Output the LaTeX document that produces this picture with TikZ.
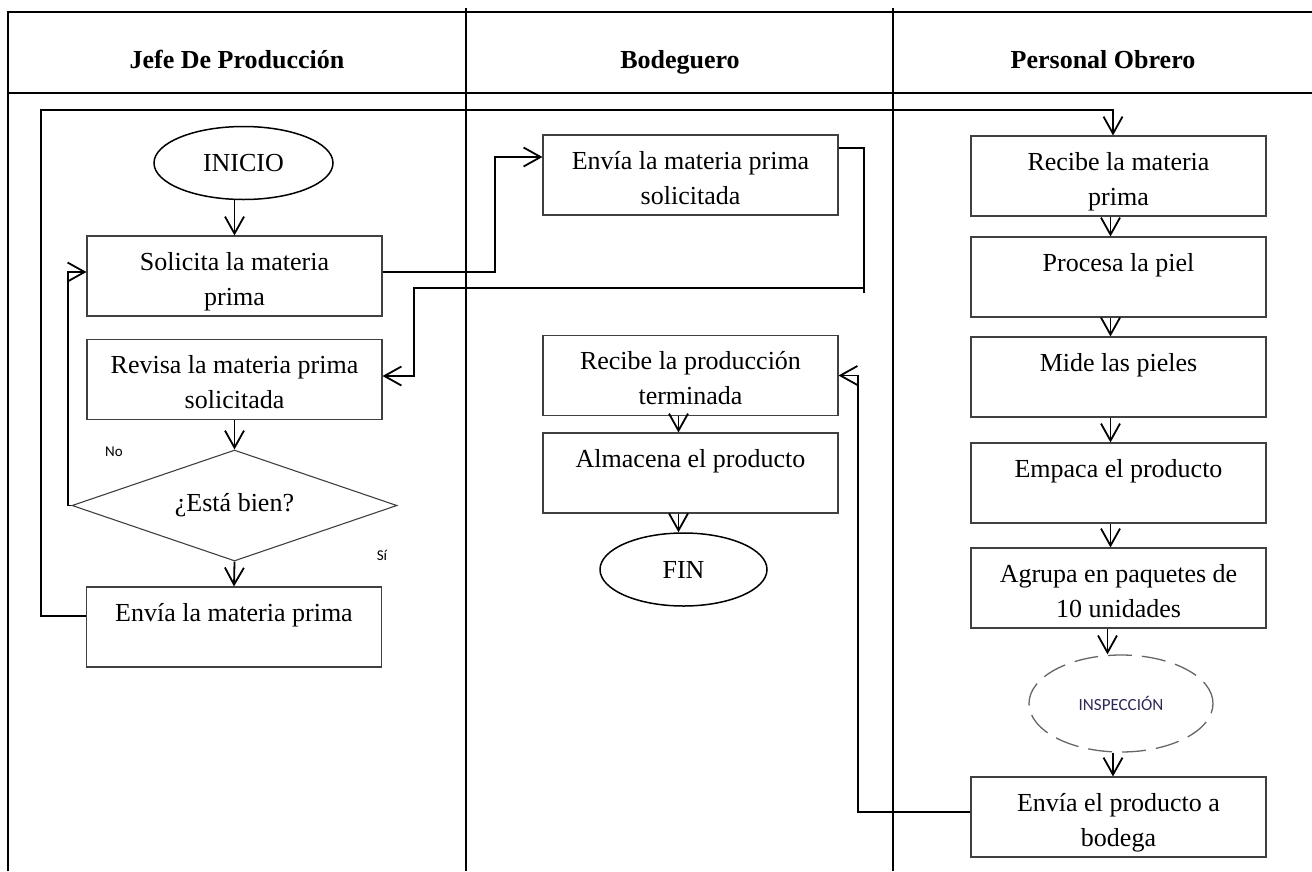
\documentclass[tikz,border=0pt]{standalone}
\usepackage{fontspec}
\setmainfont{Liberation Serif}
\newfontfamily\calib{Carlito}
\usetikzlibrary{shapes.geometric,arrows.meta}
\newcommand{\bxtxt}[1]{\parbox[c][80pt][t]{295pt}{\centering\rule{0pt}{34pt}#1}}
\tikzset{
  lane/.style={line width=2pt},
  conn/.style={line width=1.8pt},
  arr/.style={conn,-{Straight Barb[length=17pt,width=19pt]}},
  pbox/.style={draw=black!75,line width=1.1pt,inner sep=0pt,font=\fontsize{26}{35}\selectfont},
  head/.style={anchor=base,inner sep=0pt,font=\fontsize{26}{30}\selectfont\bfseries},
  ell/.style={ellipse,draw,line width=1.5pt,inner sep=0pt,minimum width=179pt,minimum height=73pt,font=\fontsize{26}{30}\selectfont},
  dia/.style={diamond,aspect=3,draw=black!75,line width=1.1pt,inner sep=0pt,minimum width=325pt,minimum height=111pt,font=\fontsize{26}{30}\selectfont},
  insp/.style={ellipse,draw=black!60,line width=1.3pt,dash pattern=on 24pt off 10pt,inner sep=0pt,minimum width=184pt,minimum height=97pt,font=\calib\fontsize{17}{18}\selectfont,text={rgb,255:red,45;green,40;blue,85}},
  lbl/.style={anchor=base,inner sep=0pt,font=\calib\fontsize{15}{18}\selectfont}
}
\begin{document}
\begin{tikzpicture}[x=1pt,y=-1pt]
\useasboundingbox (0,0) rectangle (1312,871);
% frame and lanes
\draw[lane] (8,871) -- (8,12) -- (1312,12);
\draw[lane] (8,93) -- (1312,93);
\draw[lane] (466,8) -- (466,871);
\draw[lane] (893,8) -- (893,871);
% headers
\node[head] (h1) at (237,68) {Jefe De Producción};
\node[head] (h2) at (680,68) {Bodeguero};
\node[head] (h3) at (1103,68) {Personal Obrero};
% left lane
\node[ell] (inicio) at (243.5,163) {INICIO};
\node[pbox] (sol) at (234.5,276) {\bxtxt{Solicita la materia\\prima}};
\node[pbox] (rev) at (234.5,379.5) {\bxtxt{Revisa la materia prima\\solicitada}};
\node[dia] (dia) at (234.5,505.5) {¿Está bien?};
\node[pbox] (envL) at (234,627) {\bxtxt{Envía la materia prima}};
\node[lbl] (no) at (114,456) {No};
\node[lbl] (si) at (382,560) {Sí};
% middle lane
\node[pbox] (m1) at (690.5,175) {\bxtxt{Envía la materia prima\\solicitada}};
\node[pbox] (m2) at (690.5,375.5) {\bxtxt{Recibe la producción\\terminada}};
\node[pbox] (m3) at (690.5,473) {\bxtxt{Almacena el producto}};
\node[ell,minimum width=167pt] (fin) at (683.5,569.5) {FIN};
% right lane
\node[pbox] (r1) at (1118.5,176) {\bxtxt{Recibe la materia\\prima}};
\node[pbox] (r2) at (1118.5,277) {\bxtxt{Procesa la piel}};
\node[pbox] (r3) at (1118.5,377) {\bxtxt{Mide las pieles}};
\node[pbox] (r4) at (1118.5,483) {\bxtxt{Empaca el producto}};
\node[pbox] (r5) at (1118.5,588) {\bxtxt{Agrupa en paquetes de\\10 unidades}};
\node[insp] (insp) at (1121,703.5) {\raisebox{-7pt}{INSPECCIÓN}};
\node[pbox] (r6) at (1118.5,817) {\bxtxt{Envía el producto a\\bodega}};
% connectors left
\draw[arr] (inicio.south -| sol.north) -- (sol.north);
\draw[arr] (rev.south) -- (dia.north);
\draw[arr] (dia.south) -- (envL.north);
\coordinate (noc) at (68,272);
\draw[arr] (dia.west) -| (noc) -- ([yshift=4pt]sol.west);
\coordinate (lpL) at (41,110);
\coordinate (lpR) at (1113,110);
\draw[arr] ([yshift=11pt]envL.west) -| (lpL) -- (lpR) -- (lpR |- r1.north);
\coordinate (c1) at (495,157);
\draw[arr] ([yshift=4pt]sol.east) -| (c1) -- (c1 -| m1.west);
\coordinate (c2) at (864,293);
\coordinate (c3) at (864,288);
\coordinate (c4) at (414,288);
\draw[conn] ([yshift=27pt]m1.east) -| (c2);
\draw[arr] (c3) -- (c4) |- ([yshift=3.5pt]rev.east);
\coordinate (c5) at (858,375.5);
\draw[arr] ([yshift=5pt]r6.west) -| (c5) -- (m2.east);
% middle
\draw[arr] ([xshift=-12pt]m2.south) -- ([xshift=-12pt]m3.north);
\draw[arr] ([xshift=-12pt]m3.south) -- ([xshift=-12pt]m3.south |- fin.north);
% right
\foreach \a/\b in {r1/r2,r2/r3,r3/r4,r4/r5}
  \draw[arr] ([xshift=-8pt]\a.south) -- ([xshift=-8pt]\b.north);
\draw[arr] ([xshift=-11pt]r5.south) -- ([xshift=-11pt]r5.south |- insp.north);
\draw[arr] ([xshift=-5.5pt]r6.north |- insp.south) -- ([xshift=-5.5pt]r6.north);
\end{tikzpicture}
\end{document}
